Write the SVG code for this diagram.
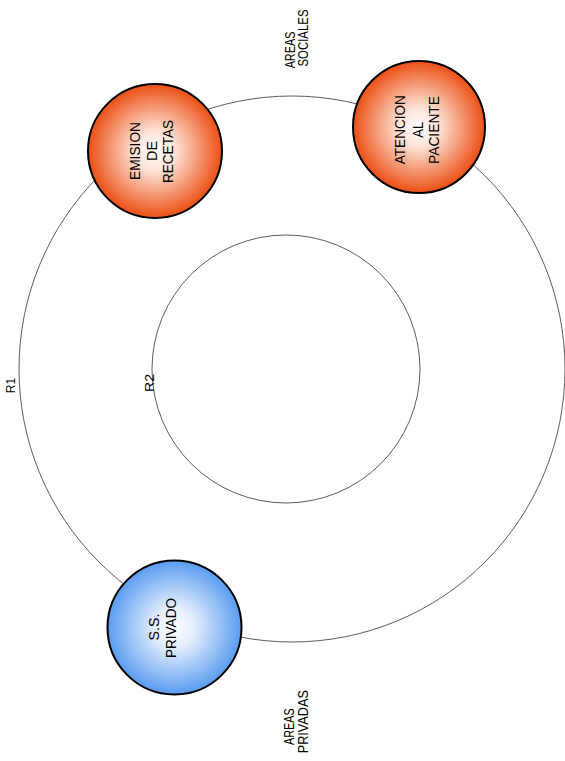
<svg xmlns="http://www.w3.org/2000/svg" width="565" height="761" viewBox="0 0 565 761">
<style>
.ring{fill:none;stroke:#333;stroke-width:0.8}
.node{stroke:#000;stroke-width:2}
text{font-family:"Liberation Sans",Arial,sans-serif;fill:#000;text-anchor:middle}
.t{font-size:15.5px}
.s{font-size:12px}
</style>
<defs>
<radialGradient id="gO" cx="50%" cy="50%" r="50%">
<stop offset="0" stop-color="#ffffff"/>
<stop offset="0.3" stop-color="#fde3d6"/>
<stop offset="1" stop-color="#ec4f14"/>
</radialGradient>
<radialGradient id="gB" cx="50%" cy="50%" r="50%">
<stop offset="0" stop-color="#ffffff"/>
<stop offset="0.3" stop-color="#e3eefd"/>
<stop offset="1" stop-color="#5a9cf0"/>
</radialGradient>
</defs>
<g id="connectors">
<circle id="R1" class="ring" cx="292" cy="369" r="273"/>
<circle id="R2" class="ring" cx="286" cy="369" r="134"/>
</g>
<g id="labels">
<text class="s" transform="translate(15,385.5) rotate(-90)">R1</text>
<text class="s" transform="translate(153.5,383) rotate(-90)" textLength="18" lengthAdjust="spacingAndGlyphs">R2</text>
<text class="t" transform="translate(295,50) rotate(-90)" textLength="36.7" lengthAdjust="spacingAndGlyphs">AREAS</text>
<text class="t" style="font-size:14.5px" transform="translate(308.3,38) rotate(-90)" textLength="57" lengthAdjust="spacingAndGlyphs">SOCIALES</text>
<text class="t" transform="translate(294.3,726.7) rotate(-90)" textLength="36.7" lengthAdjust="spacingAndGlyphs">AREAS</text>
<text class="t" transform="translate(308.3,721.7) rotate(-90)" textLength="63.3" lengthAdjust="spacingAndGlyphs">PRIVADAS</text>
</g>
<g id="node-emision">
<circle class="node" cx="155" cy="151" r="67" fill="url(#gO)"/>
<text class="t" transform="translate(139.5,151) rotate(-90)" textLength="58" lengthAdjust="spacingAndGlyphs">EMISION</text>
<text class="t" transform="translate(156.7,151) rotate(-90)" textLength="20" lengthAdjust="spacingAndGlyphs">DE</text>
<text class="t" transform="translate(172.9,151.5) rotate(-90)" textLength="63" lengthAdjust="spacingAndGlyphs">RECETAS</text>
</g>
<g id="node-atencion">
<circle class="node" cx="419" cy="127" r="66" fill="url(#gO)"/>
<text class="t" transform="translate(405.2,129.7) rotate(-90)" textLength="69" lengthAdjust="spacingAndGlyphs">ATENCION</text>
<text class="t" transform="translate(422.5,129.7) rotate(-90)" textLength="16" lengthAdjust="spacingAndGlyphs">AL</text>
<text class="t" transform="translate(438.5,130) rotate(-90)" textLength="68" lengthAdjust="spacingAndGlyphs">PACIENTE</text>
</g>
<g id="node-ssprivado">
<circle class="node" cx="174.5" cy="627.5" r="67" fill="url(#gB)"/>
<text class="t" transform="translate(158.5,627) rotate(-90)" textLength="27" lengthAdjust="spacingAndGlyphs">S.S.</text>
<text class="t" transform="translate(176.2,628) rotate(-90)" textLength="60" lengthAdjust="spacingAndGlyphs">PRIVADO</text>
</g>
</svg>
